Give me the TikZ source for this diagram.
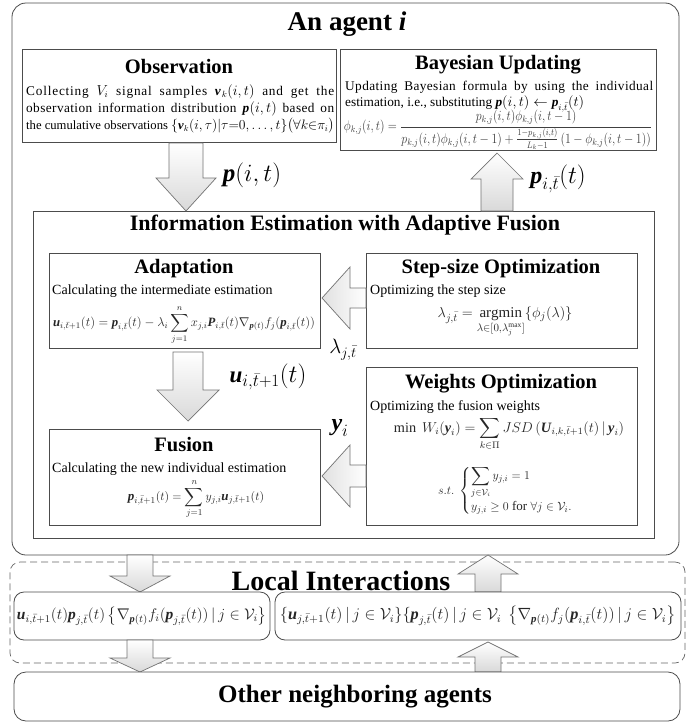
\documentclass[tikz,border=0pt]{standalone}
\usepackage{amsmath,amssymb}
\usepackage{graphicx}
\usepackage{fontspec}
\setmainfont{Liberation Serif}
\usetikzlibrary{shadows}
\newcommand{\bv}[1]{\textbf{\textit{#1}}}
\newcommand{\tb}{\bar{t}}
\newcommand{\jline}[3]{\makebox[#1][s]{\addfontfeature{LetterSpace=#2}#3}}
\newcommand{\ArrV}[6]{\draw[blk] ({#1-#4},#2) -- ({#1+#4},#2) -- ({#1+#4},#6) -- ({#1+#5},#6) -- (#1,#3) -- ({#1-#5},#6) -- ({#1-#4},#6) -- cycle;}
\newcommand{\ArrH}[6]{\draw[hblk] (#2,{#1-#4}) -- (#2,{#1+#4}) -- (#6,{#1+#4}) -- (#6,{#1+#5}) -- (#3,#1) -- (#6,{#1-#5}) -- (#6,{#1-#4}) -- cycle;}
\tikzset{
  panel/.style={draw=black!70, line width=0.8pt, fill=white, inner sep=0, drop shadow={shadow xshift=1.2pt, shadow yshift=-1.2pt, opacity=0.3}},
  frame/.style={draw=black!70, line width=0.8pt, fill=white, inner sep=0},
  ttl/.style={font=\fontsize{20.5}{22}\selectfont\bfseries, inner sep=0},
  bigttl/.style={font=\fontsize{27}{30}\selectfont\bfseries, inner sep=0},
  body/.style={font=\fontsize{14}{16}\selectfont, inner sep=0, anchor=west},
  jbody/.style={font=\fontsize{13.3}{15}\selectfont, inner sep=0, anchor=west},
  frm/.style={inner sep=0, text=black!85, font=\fontsize{12}{14}\selectfont},
  blk/.style={draw=black!55, line width=0.7pt, top color=white, bottom color=black!15},
  hblk/.style={draw=black!55, line width=0.7pt, left color=black!12, right color=white},
  lbl/.style={inner sep=0},
}
\begin{document}
\begin{tikzpicture}[x=1pt,y=-1pt]
\useasboundingbox (0,0) rectangle (694,723);
% outer agent box
\node[frame, rounded corners=14pt, minimum width=667pt, minimum height=552pt] (agent) at (345.5,279) {};
\node[bigttl] (agentt) at (347,24) {An agent \textit{i}};
% observation
\node[panel, minimum width=314pt, minimum height=93pt] (obs) at (179,95.5) {};
\node[ttl] (obst) at (179,66) {Observation};
\node[jbody] (o1) at (26,92) {\jline{308pt}{6}{Collecting $V_i$ signal samples $\bv{v}_k(i,t)$ and get the}};
\node[jbody] (o2) at (26,109) {\jline{308pt}{3}{observation information distribution $\bv{p}(i,t)$ based on}};
\node[jbody] (o3) at (26,126) {\resizebox{308pt}{!}{the cumulative observations $\{\bv{v}_k(i,\tau)|\tau{=}0,\ldots,t\}\bigl(\forall k{\in}\pi_i\bigr)$}};
% bayesian
\node[panel, minimum width=316pt, minimum height=101pt] (bay) at (498,99.5) {};
\node[ttl] (bayt) at (498,65) {Bayesian Updating};
\node[jbody] (b1) at (345,87) {\jline{308pt}{3}{Updating Bayesian formula by using the individual}};
\node[jbody] (b2) at (345,104) {estimation, i.e., substituting $\bv{p}(i,t)\leftarrow\bv{p}_{i,\tb}(t)$};
\node[frm, text=black!75] (bf) at (498,130) {\resizebox{308pt}{20pt}{$\phi_{k,j}(i,t)=\dfrac{p_{k,j}(i,t)\phi_{k,j}(i,t-1)}{p_{k,j}(i,t)\phi_{k,j}(i,t-1)+\frac{1-p_{k,j}(i,t)}{L_k-1}\left(1-\phi_{k,j}(i,t-1)\right)}$}};
% info estimation box
\node[frame, minimum width=621pt, minimum height=327pt] (info) at (343.5,374.5) {};
\node[ttl, font=\fontsize{22}{24}\selectfont\bfseries] (infot) at (345,225) {Information Estimation with Adaptive Fusion};
% arrows top
\ArrV{186}{143}{211}{17}{30}{178}
\node[lbl, font=\fontsize{25}{27}\selectfont] (lp) at (252,175) {\bv{p}$(i,t)$};
\ArrV{497}{211}{153}{16}{26}{179}
\node[lbl, font=\fontsize{24}{26}\selectfont] (lpt) at (558,179) {$\bv{p}_{i,\tb}(t)$};
% adaptation
\node[panel, minimum width=271pt, minimum height=95pt] (adp) at (184.5,300.5) {};
\node[ttl] (adpt) at (184,269) {Adaptation};
\node[body] (a1) at (52,291) {Calculating the intermediate estimation};
\node[frm] (af) at (184,325) {\resizebox{262pt}{!}{$\displaystyle \bv{u}_{i,\tb+1}(t)=\bv{p}_{i,\tb}(t)-\lambda_i\sum_{j=1}^{n}x_{j,i}\bv{P}_{i,\tb}(t)\nabla_{\bv{p}(t)}f_j(\bv{p}_{i,\tb}(t))$}};
% step size
\node[panel, minimum width=271pt, minimum height=95pt] (stp) at (501.5,300.5) {};
\node[ttl] (stpt) at (501,269) {Step-size Optimization};
\node[body] (s1) at (370,291) {Optimizing the step size};
\node[frm, font=\fontsize{15}{17}\selectfont] (sf) at (505,322) {$\displaystyle\lambda_{j,\tb}=\mathop{\mathrm{argmin}}_{\lambda\in[0,\lambda_j^{\max}]}\{\phi_j(\lambda)\}$};
\ArrH{298}{366}{322}{10}{31}{350}
\node[lbl, font=\fontsize{21}{23}\selectfont] (ll) at (343,350) {$\lambda_{j,\tb}$};
% u arrow
\ArrV{188}{352}{421}{15}{31}{390}
\node[lbl, font=\fontsize{23}{25}\selectfont] (lu) at (268,377) {$\bv{u}_{i,\tb+1}(t)$};
% weights
\node[panel, minimum width=271pt, minimum height=158pt] (wgt) at (501.5,446) {};
\node[ttl] (wgtt) at (501,384) {Weights Optimization};
\node[body] (w1) at (370,407) {Optimizing the fusion weights};
\node[frm] (wf) at (509,434) {\resizebox{230pt}{!}{$\displaystyle\min\ W_i(\bv{y}_i)=\sum_{k\in\Pi}JSD\left(\bv{U}_{i,k,\tb+1}(t)\,|\,\bv{y}_i\right)$}};
\node[frm, font=\fontsize{13}{15}\selectfont] (wc) at (512,491) {$s.t.\ \begin{cases}\displaystyle\sum_{j\in\mathcal{V}_i}y_{j,i}=1\\[8pt] y_{j,i}\ge 0\ \text{for}\ \forall j\in\mathcal{V}_i.\end{cases}$};
% fusion
\node[panel, minimum width=271pt, minimum height=96pt] (fus) at (184.5,477) {};
\node[ttl] (fust) at (184,445) {Fusion};
\node[body] (f1) at (52,469) {Calculating the new individual estimation};
\node[frm, font=\fontsize{13}{15}\selectfont] (ff) at (196,499) {$\displaystyle\bv{p}_{i,\tb+1}(t)=\sum_{j=1}^{n}y_{j,i}\bv{u}_{j,\tb+1}(t)$};
\ArrH{476}{366}{322}{11}{31}{350}
\node[lbl, font=\fontsize{24}{26}\selectfont] (ly) at (340,428) {$\bv{y}_i$};
% local interactions
\node[draw=black!60, dashed, dash pattern=on 7pt off 4pt, line width=0.7pt, rounded corners=10pt, minimum width=675pt, minimum height=101pt, inner sep=0] (loc) at (347.5,612.5) {};
\ArrV{140}{555}{592}{13}{30}{576}
\ArrV{488}{592}{555}{13}{30}{574}
\node[ttl, font=\fontsize{28}{30}\selectfont\bfseries] (loct) at (341,581) {Local Interactions};
\node[frame, rounded corners=10pt, minimum width=256pt, minimum height=48pt] (li1) at (142,616) {};
\node[frame, rounded corners=10pt, minimum width=406pt, minimum height=48pt] (li2) at (478,616) {};
\node[frm] (lf1) at (142,616) {\resizebox{250pt}{!}{$\bv{u}_{i,\tb+1}(t)\bv{p}_{j,\tb}(t)\left\{\nabla_{\bv{p}(t)}f_i(\bv{p}_{j,\tb}(t))\,|\,j\in\mathcal{V}_i\right\}$}};
\node[frm] (lf2) at (478,616) {\resizebox{396pt}{!}{$\{\bv{u}_{j,\tb+1}(t)\,|\,j\in\mathcal{V}_i\}\{\bv{p}_{j,\tb}(t)\,|\,j\in\mathcal{V}_i\ \left\{\nabla_{\bv{p}(t)}f_j(\bv{p}_{i,\tb}(t))\,|\,j\in\mathcal{V}_i\right\}$}};
% bottom
\ArrV{140}{640}{672}{13}{30}{658}
\ArrV{488}{672}{642}{13}{30}{657}
\node[frame, rounded corners=12pt, minimum width=666pt, minimum height=49pt] (oth) at (347,696.5) {};
\node[ttl, font=\fontsize{25}{27}\selectfont\bfseries] (otht) at (355,697) {Other neighboring agents};
\end{tikzpicture}
\end{document}
